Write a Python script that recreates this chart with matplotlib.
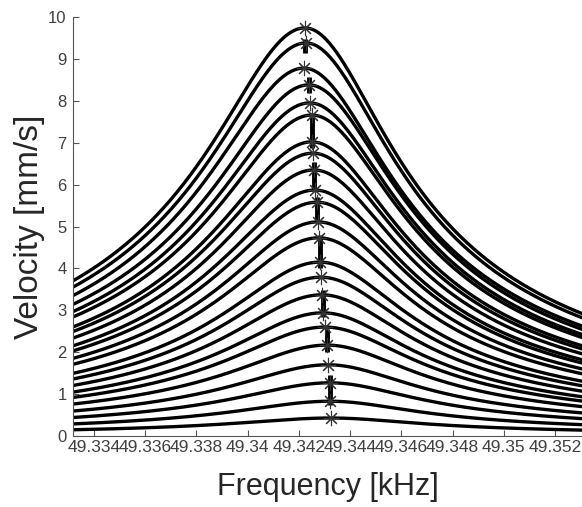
import numpy as np
import matplotlib.pyplot as plt

plt.rcParams['font.family'] = ['Liberation Sans', 'DejaVu Sans']

# peak amplitude [mm/s] and peak frequency [kHz] of each sweep, top to bottom
peak_vel = [9.74, 9.38, 8.78, 8.38, 7.95, 7.66, 7.02, 6.75, 6.35, 5.87, 5.58, 5.11,
            4.73, 4.15, 3.79, 3.37, 2.94, 2.60, 2.17, 1.70, 1.27, 0.83, 0.43]
peak_freq = [49.34224, 49.34228, 49.34220, 49.34239, 49.34243, 49.34251, 49.34251,
             49.34255, 49.34259, 49.34263, 49.34271, 49.34275, 49.34278, 49.34282,
             49.34286, 49.34290, 49.34294, 49.34302, 49.34310, 49.34314, 49.34321,
             49.34321, 49.34325]
# half widths below / above the peak [kHz]
hw_low, hw_high = 0.00372, 0.00340

# clusters of peak markers (frequency, lower, upper)
bar_freq = [49.34224, 49.34239, 49.34251, 49.34259, 49.34271, 49.34282, 49.34294, 49.34310, 49.34321]
bar_lo = [9.14, 8.19, 6.87, 5.87, 5.16, 4.01, 2.84, 2.00, 0.74]
bar_hi = [9.47, 8.57, 7.61, 6.54, 5.70, 4.80, 3.48, 2.55, 1.46]

xmin, xmax = 49.33319, 49.35305
xticks = [49.334, 49.336, 49.338, 49.34, 49.342, 49.344, 49.346, 49.348, 49.35, 49.352]

fig = plt.figure(figsize=(5.82, 5.07), dpi=100)
ax = fig.add_axes([0.1254, 0.140, 0.8746, 0.8265])

f = np.linspace(xmin, xmax, 800)
for a, f0 in zip(peak_vel, peak_freq):
    g = np.where(f < f0, hw_low, hw_high)
    ax.plot(f, a / np.sqrt(1 + ((f - f0) / g) ** 2), color='black', lw=2.4)

ax.vlines(bar_freq, bar_lo, bar_hi, color='black', lw=3.5, zorder=3)
ax.plot(peak_freq, peak_vel, ls='none', marker=(8, 2, 0), ms=11, mew=0.8,
        color='#333333', zorder=4)

ax.set_xlim(xmin, xmax)
ax.set_ylim(0, 10)
ax.set_xticks(xticks)
ax.set_xticklabels([f"{t:g}" for t in xticks])
ax.set_yticks(range(11))
for s in ['top', 'right']:
    ax.spines[s].set_visible(False)
for s in ['left', 'bottom']:
    ax.spines[s].set_color('#555555')
    ax.spines[s].set_linewidth(0.8)
ax.tick_params(direction='in', length=4, width=0.8, color='#555555',
               labelcolor='#404040')
ax.tick_params(axis='x', labelsize=12.5, pad=3)
ax.tick_params(axis='y', labelsize=12, pad=4.5)
ax.set_xlabel('Frequency [kHz]', fontsize=22, color='#262626', labelpad=12)
ax.set_ylabel('Velocity [mm/s]', fontsize=24, color='#262626', labelpad=2)

fig.savefig('out.png', dpi=100)
